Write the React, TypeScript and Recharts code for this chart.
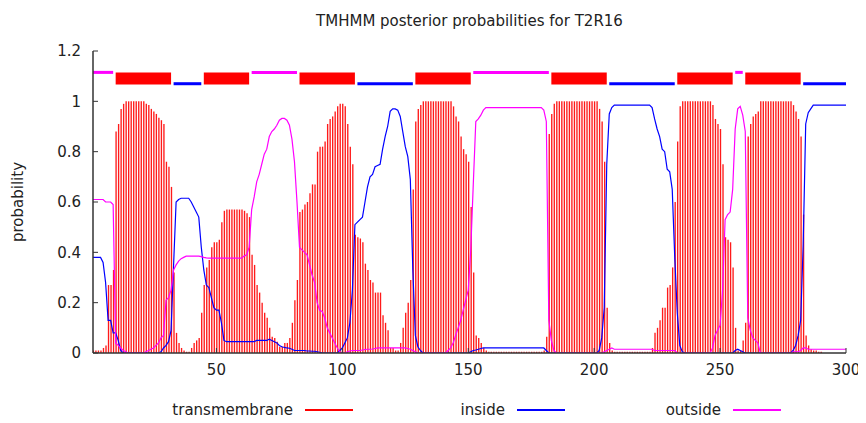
import React from 'react';
import { ComposedChart, Bar, Line, XAxis, YAxis, ReferenceArea } from 'recharts';

// posterior probabilities per residue (1..300)
const tmProb = [
  0.01, 0.01, 0.01, 0.01, 0.02, 0.03, 0.27, 0.27, 0.33, 0.88, // 1-10
  0.91, 0.97, 0.99, 1, 1, 1, 1, 1, 1, 1, // 11-20
  1, 0.99, 0.985, 0.97, 0.96, 0.95, 0.935, 0.925, 0.91, 0.76, // 21-30
  0.74, 0.66, 0.32, 0.08, 0.04, 0.02, 0.01, 0.005, 0.005, 0.02, // 31-40
  0.04, 0.05, 0.06, 0.16, 0.27, 0.34, 0.37, 0.42, 0.44, 0.44, // 41-50
  0.45, 0.52, 0.565, 0.57, 0.57, 0.57, 0.57, 0.57, 0.57, 0.57, // 51-60
  0.565, 0.555, 0.54, 0.39, 0.35, 0.27, 0.24, 0.2, 0.16, 0.14, // 61-70
  0.1, 0.065, 0.06, 0.045, 0.025, 0.025, 0.04, 0.04, 0.06, 0.12, // 71-80
  0.21, 0.29, 0.56, 0.57, 0.59, 0.6, 0.635, 0.67, 0.67, 0.8, // 81-90
  0.82, 0.82, 0.84, 0.91, 0.93, 0.94, 0.96, 0.98, 0.99, 0.99, // 91-100
  0.98, 0.91, 0.82, 0.75, 0.47, 0.46, 0.455, 0.44, 0.355, 0.33, // 101-110
  0.29, 0.28, 0.24, 0.24, 0.24, 0.15, 0.12, 0.09, 0.02, 0.02, // 111-120
  0.01, 0.01, 0.04, 0.1, 0.16, 0.2, 0.29, 0.65, 0.92, 0.97, // 121-130
  0.985, 1, 1, 1, 1, 1, 1, 1, 1, 1, // 131-140
  1, 1, 1, 0.98, 0.94, 0.92, 0.86, 0.81, 0.79, 0.76, // 141-150
  0.58, 0.32, 0.07, 0.06, 0.04, 0.02, 0.01, 0.005, 0.005, 0.005, // 151-160
  0.005, 0.005, 0.005, 0.005, 0.005, 0.005, 0.005, 0.005, 0.005, 0.005, // 161-170
  0.005, 0.005, 0.005, 0.005, 0.005, 0.005, 0.005, 0.005, 0.005, 0.01, // 171-180
  0.065, 0.87, 0.95, 0.99, 1, 1, 1, 1, 1, 1, // 181-190
  1, 1, 1, 1, 1, 1, 1, 1, 1, 1, // 191-200
  1, 0.97, 0.92, 0.76, 0.18, 0.04, 0.01, 0.005, 0.005, 0.005, // 201-210
  0.005, 0.005, 0.005, 0.005, 0.005, 0.005, 0.005, 0.005, 0.005, 0.005, // 211-220
  0.005, 0.005, 0.02, 0.08, 0.1, 0.13, 0.18, 0.18, 0.26, 0.27, // 221-230
  0.34, 0.6, 0.84, 0.98, 1, 1, 1, 1, 1, 1, // 231-240
  1, 1, 1, 1, 1, 1, 0.985, 0.93, 0.91, 0.89, // 241-250
  0.75, 0.46, 0.45, 0.44, 0.34, 0.1, 0.01, 0.01, 0.05, 0.12, // 251-260
  0.86, 0.91, 0.94, 0.95, 0.96, 1, 1, 1, 1, 1, // 261-270
  1, 1, 1, 1, 1, 1, 1, 1, 0.985, 0.96, // 271-280
  0.93, 0.86, 0.55, 0.07, 0.03, 0.015, 0.01, 0.01, 0.005, 0.005, // 281-290
  0, 0, 0, 0, 0, 0, 0, 0, 0, 0, // 291-300
];

const insideProb = [
  0.38, 0.38, 0.38, 0.38, 0.36, 0.28, 0.13, 0.13, 0.08, 0.08, // 1-10
  0.05, 0.01, 0, 0, 0, 0, 0, 0, 0, 0, // 11-20
  0, 0, 0, 0, 0, 0, 0, 0.005, 0.02, 0.03, // 21-30
  0.045, 0.09, 0.35, 0.6, 0.61, 0.615, 0.615, 0.615, 0.615, 0.6, // 31-40
  0.58, 0.56, 0.54, 0.42, 0.33, 0.27, 0.26, 0.22, 0.18, 0.17, // 41-50
  0.17, 0.12, 0.05, 0.045, 0.045, 0.045, 0.045, 0.045, 0.045, 0.045, // 51-60
  0.045, 0.045, 0.045, 0.045, 0.045, 0.05, 0.05, 0.05, 0.05, 0.05, // 61-70
  0.055, 0.05, 0.045, 0.04, 0.03, 0.025, 0.022, 0.02, 0.019, 0.015, // 71-80
  0.01, 0.01, 0.01, 0.01, 0.01, 0.008, 0.008, 0.007, 0.007, 0.005, // 81-90
  0.003, 0, 0, 0, 0, 0, 0, 0, 0.01, 0.02, // 91-100
  0.04, 0.06, 0.12, 0.25, 0.51, 0.52, 0.53, 0.54, 0.6, 0.66, // 101-110
  0.7, 0.71, 0.74, 0.745, 0.75, 0.81, 0.86, 0.9, 0.96, 0.97, // 111-120
  0.97, 0.965, 0.94, 0.88, 0.82, 0.78, 0.69, 0.33, 0.07, 0.025, // 121-130
  0.01, 0, 0, 0, 0, 0, 0, 0, 0, 0, // 131-140
  0, 0, 0, 0, 0, 0, 0, 0, 0, 0, // 141-150
  0.005, 0.01, 0.012, 0.015, 0.018, 0.02, 0.02, 0.02, 0.02, 0.02, // 151-160
  0.02, 0.02, 0.02, 0.02, 0.02, 0.02, 0.02, 0.02, 0.02, 0.02, // 161-170
  0.02, 0.02, 0.02, 0.02, 0.02, 0.02, 0.02, 0.02, 0.02, 0.02, // 171-180
  0.01, 0, 0, 0, 0, 0, 0, 0, 0, 0, // 181-190
  0, 0, 0, 0, 0, 0, 0, 0, 0, 0, // 191-200
  0, 0.01, 0.06, 0.18, 0.75, 0.95, 0.975, 0.985, 0.985, 0.985, // 201-210
  0.985, 0.985, 0.985, 0.985, 0.985, 0.985, 0.985, 0.985, 0.985, 0.985, // 211-220
  0.985, 0.985, 0.975, 0.93, 0.89, 0.86, 0.81, 0.8, 0.73, 0.72, // 221-230
  0.65, 0.38, 0.16, 0.03, 0.005, 0, 0, 0, 0, 0, // 231-240
  0, 0, 0, 0, 0, 0, 0, 0, 0, 0, // 241-250
  0, 0, 0, 0, 0, 0.01, 0.015, 0.01, 0.005, 0, // 251-260
  0, 0, 0, 0, 0, 0, 0, 0, 0, 0, // 261-270
  0, 0, 0, 0, 0, 0, 0, 0, 0.01, 0.03, // 271-280
  0.07, 0.13, 0.43, 0.91, 0.955, 0.97, 0.985, 0.985, 0.985, 0.985, // 281-290
  0.985, 0.985, 0.985, 0.985, 0.985, 0.985, 0.985, 0.985, 0.985, 0.985, // 291-300
];

const outsideProb = [
  0.61, 0.61, 0.61, 0.61, 0.61, 0.6, 0.6, 0.6, 0.59, 0.04, // 1-10
  0.03, 0.02, 0.01, 0.005, 0, 0, 0, 0, 0, 0, // 11-20
  0, 0.005, 0.01, 0.015, 0.02, 0.03, 0.04, 0.06, 0.07, 0.21, // 21-30
  0.22, 0.25, 0.33, 0.35, 0.365, 0.375, 0.38, 0.385, 0.385, 0.385, // 31-40
  0.385, 0.385, 0.385, 0.383, 0.38, 0.378, 0.377, 0.377, 0.377, 0.377, // 41-50
  0.377, 0.377, 0.377, 0.377, 0.377, 0.377, 0.377, 0.377, 0.377, 0.377, // 51-60
  0.385, 0.39, 0.42, 0.57, 0.62, 0.68, 0.71, 0.75, 0.79, 0.81, // 61-70
  0.86, 0.88, 0.89, 0.905, 0.925, 0.932, 0.932, 0.925, 0.905, 0.85, // 71-80
  0.76, 0.6, 0.42, 0.41, 0.4, 0.39, 0.35, 0.31, 0.28, 0.2, // 81-90
  0.17, 0.165, 0.14, 0.1, 0.08, 0.06, 0.04, 0.02, 0.005, 0, // 91-100
  0, 0.005, 0.008, 0.01, 0.01, 0.01, 0.01, 0.012, 0.014, 0.015, // 101-110
  0.015, 0.016, 0.018, 0.02, 0.02, 0.02, 0.02, 0.02, 0.02, 0.02, // 111-120
  0.02, 0.02, 0.02, 0.02, 0.02, 0.018, 0.015, 0.01, 0.005, 0, // 121-130
  0, 0, 0, 0, 0, 0, 0, 0, 0, 0, // 131-140
  0, 0.01, 0.02, 0.04, 0.07, 0.1, 0.13, 0.17, 0.21, 0.25, // 141-150
  0.41, 0.67, 0.92, 0.93, 0.945, 0.965, 0.975, 0.975, 0.975, 0.975, // 151-160
  0.975, 0.975, 0.975, 0.975, 0.975, 0.975, 0.975, 0.975, 0.975, 0.975, // 161-170
  0.975, 0.975, 0.975, 0.975, 0.975, 0.975, 0.975, 0.975, 0.975, 0.965, // 171-180
  0.92, 0.13, 0.05, 0.01, 0, 0, 0, 0, 0, 0, // 181-190
  0, 0, 0, 0, 0, 0, 0, 0, 0, 0, // 191-200
  0, 0, 0, 0.005, 0.01, 0.015, 0.02, 0.015, 0.015, 0.015, // 201-210
  0.015, 0.015, 0.015, 0.015, 0.015, 0.015, 0.015, 0.015, 0.015, 0.015, // 211-220
  0.015, 0.015, 0.015, 0.01, 0.01, 0.01, 0.01, 0.01, 0.01, 0.01, // 221-230
  0.01, 0.01, 0, 0, 0, 0, 0, 0, 0, 0, // 231-240
  0, 0, 0, 0, 0, 0, 0.02, 0.07, 0.09, 0.11, // 241-250
  0.25, 0.53, 0.55, 0.56, 0.65, 0.89, 0.97, 0.98, 0.945, 0.88, // 251-260
  0.14, 0.09, 0.06, 0.05, 0.04, 0, 0, 0, 0, 0, // 261-270
  0, 0, 0, 0, 0, 0, 0, 0, 0.005, 0.005, // 271-280
  0.005, 0.01, 0.02, 0.02, 0.015, 0.015, 0.015, 0.015, 0.015, 0.015, // 281-290
  0.015, 0.015, 0.015, 0.015, 0.015, 0.015, 0.015, 0.015, 0.015, 0.015, // 291-300
];

// predicted topology shown as the strip above the curves
const segStart = [1, 10, 33, 45, 64, 83, 106, 129, 152, 183, 206, 233, 256, 260, 283];
const segEnd = [9, 32, 44, 63, 82, 105, 128, 151, 182, 205, 232, 255, 259, 282, 300];
const segType = ['outside', 'TMhelix', 'inside', 'TMhelix', 'outside', 'TMhelix', 'inside', 'TMhelix',
  'outside', 'TMhelix', 'inside', 'TMhelix', 'outside', 'TMhelix', 'inside'];

const xTicks = [50, 100, 150, 200, 250, 300];
const yTicks = [0, 0.2, 0.4, 0.6, 0.8, 1, 1.2];

const legendLabels = ['transmembrane', 'inside', 'outside'];
const legendKeys = ['tm', 'inside', 'outside'];

const COLORS: Record<string, string> = { tm: '#ff0000', inside: '#0000ff', outside: '#ff00ff' };
const STRIP: Record<string, { y: [number, number]; color: string }> = {
  TMhelix: { y: [1.067, 1.115], color: '#ff0000' },
  inside: { y: [1.064, 1.076], color: '#0000ff' },
  outside: { y: [1.109, 1.121], color: '#ff00ff' },
};
// x position where each legend sample line starts (text ends just before it)
const LEGEND_X = [305, 517, 733];

const W = 866;
const H = 423;
const FONT = '"DejaVu Sans", Verdana, sans-serif';
const AXIS = '#333';

export default function App() {
  const data = tmProb.map((tm, i) => ({
    pos: i + 1,
    tm,
    inside: insideProb[i],
    outside: outsideProb[i],
  }));

  const tickStyle = { fill: '#222', fontSize: 15, fontFamily: FONT };

  return (
    <div style={{ position: 'relative', width: W, height: H, margin: -8, background: '#fff', fontFamily: FONT, color: '#222' }}>
      <ComposedChart width={W} height={H} data={data} margin={{ top: 51, right: 20, bottom: 40, left: 43 }}>
        <XAxis
          dataKey="pos"
          type="number"
          domain={[1, 300]}
          ticks={xTicks}
          allowDataOverflow
          height={30}
          tickSize={-5}
          tickMargin={16}
          axisLine={{ stroke: AXIS, strokeWidth: 1.5 }}
          tickLine={{ stroke: AXIS }}
          tick={tickStyle}
        />
        <XAxis
          xAxisId="top"
          orientation="top"
          dataKey="pos"
          type="number"
          domain={[1, 300]}
          ticks={xTicks}
          allowDataOverflow
          height={0}
          tickSize={-5}
          tick={false}
          axisLine={{ stroke: AXIS, strokeWidth: 1.5 }}
          tickLine={{ stroke: AXIS }}
        />
        <YAxis
          type="number"
          domain={[0, 1.2]}
          ticks={yTicks}
          allowDataOverflow
          width={50}
          tickSize={-5}
          tickMargin={17}
          tickFormatter={(v: number) => String(Math.round(v * 10) / 10)}
          axisLine={{ stroke: AXIS, strokeWidth: 1.5 }}
          tickLine={{ stroke: AXIS }}
          tick={tickStyle}
        />
        <YAxis
          yAxisId="right"
          orientation="right"
          type="number"
          domain={[0, 1.2]}
          ticks={yTicks}
          allowDataOverflow
          width={0}
          tickSize={-5}
          tick={false}
          axisLine={{ stroke: AXIS, strokeWidth: 1.5 }}
          tickLine={{ stroke: AXIS }}
        />

        {segStart.map((s, i) => (
          <ReferenceArea
            key={i}
            x1={s}
            x2={segEnd[i]}
            y1={STRIP[segType[i]].y[0]}
            y2={STRIP[segType[i]].y[1]}
            fill={STRIP[segType[i]].color}
            fillOpacity={1}
            stroke="none"
            ifOverflow="visible"
          />
        ))}

        <Bar dataKey="tm" fill="#ff1a1a" barSize={1.35} isAnimationActive={false} />
        <Line type="linear" dataKey="inside" stroke={COLORS.inside} strokeWidth={1.2} dot={false} activeDot={false} isAnimationActive={false} />
        <Line type="linear" dataKey="outside" stroke={COLORS.outside} strokeWidth={1.2} dot={false} activeDot={false} isAnimationActive={false} />
      </ComposedChart>

      <div style={{ position: 'absolute', left: 93, width: 753, top: 12, textAlign: 'center', fontSize: 15, lineHeight: '18px' }}>
        TMHMM posterior probabilities for T2R16
      </div>
      <div
        style={{
          position: 'absolute',
          left: 18,
          top: 202,
          fontSize: 15,
          whiteSpace: 'nowrap',
          transform: 'translate(-50%, -50%) rotate(-90deg)',
        }}
      >
        probability
      </div>

      {legendLabels.map((label, i) => (
        <React.Fragment key={label}>
          <div
            style={{
              position: 'absolute',
              right: W - LEGEND_X[i] + 12,
              top: 401,
              fontSize: 15,
              lineHeight: '18px',
              whiteSpace: 'nowrap',
            }}
          >
            {label}
          </div>
          <div
            style={{
              position: 'absolute',
              left: LEGEND_X[i],
              width: 48,
              top: 409,
              height: 2,
              background: COLORS[legendKeys[i]],
            }}
          />
        </React.Fragment>
      ))}
    </div>
  );
}
